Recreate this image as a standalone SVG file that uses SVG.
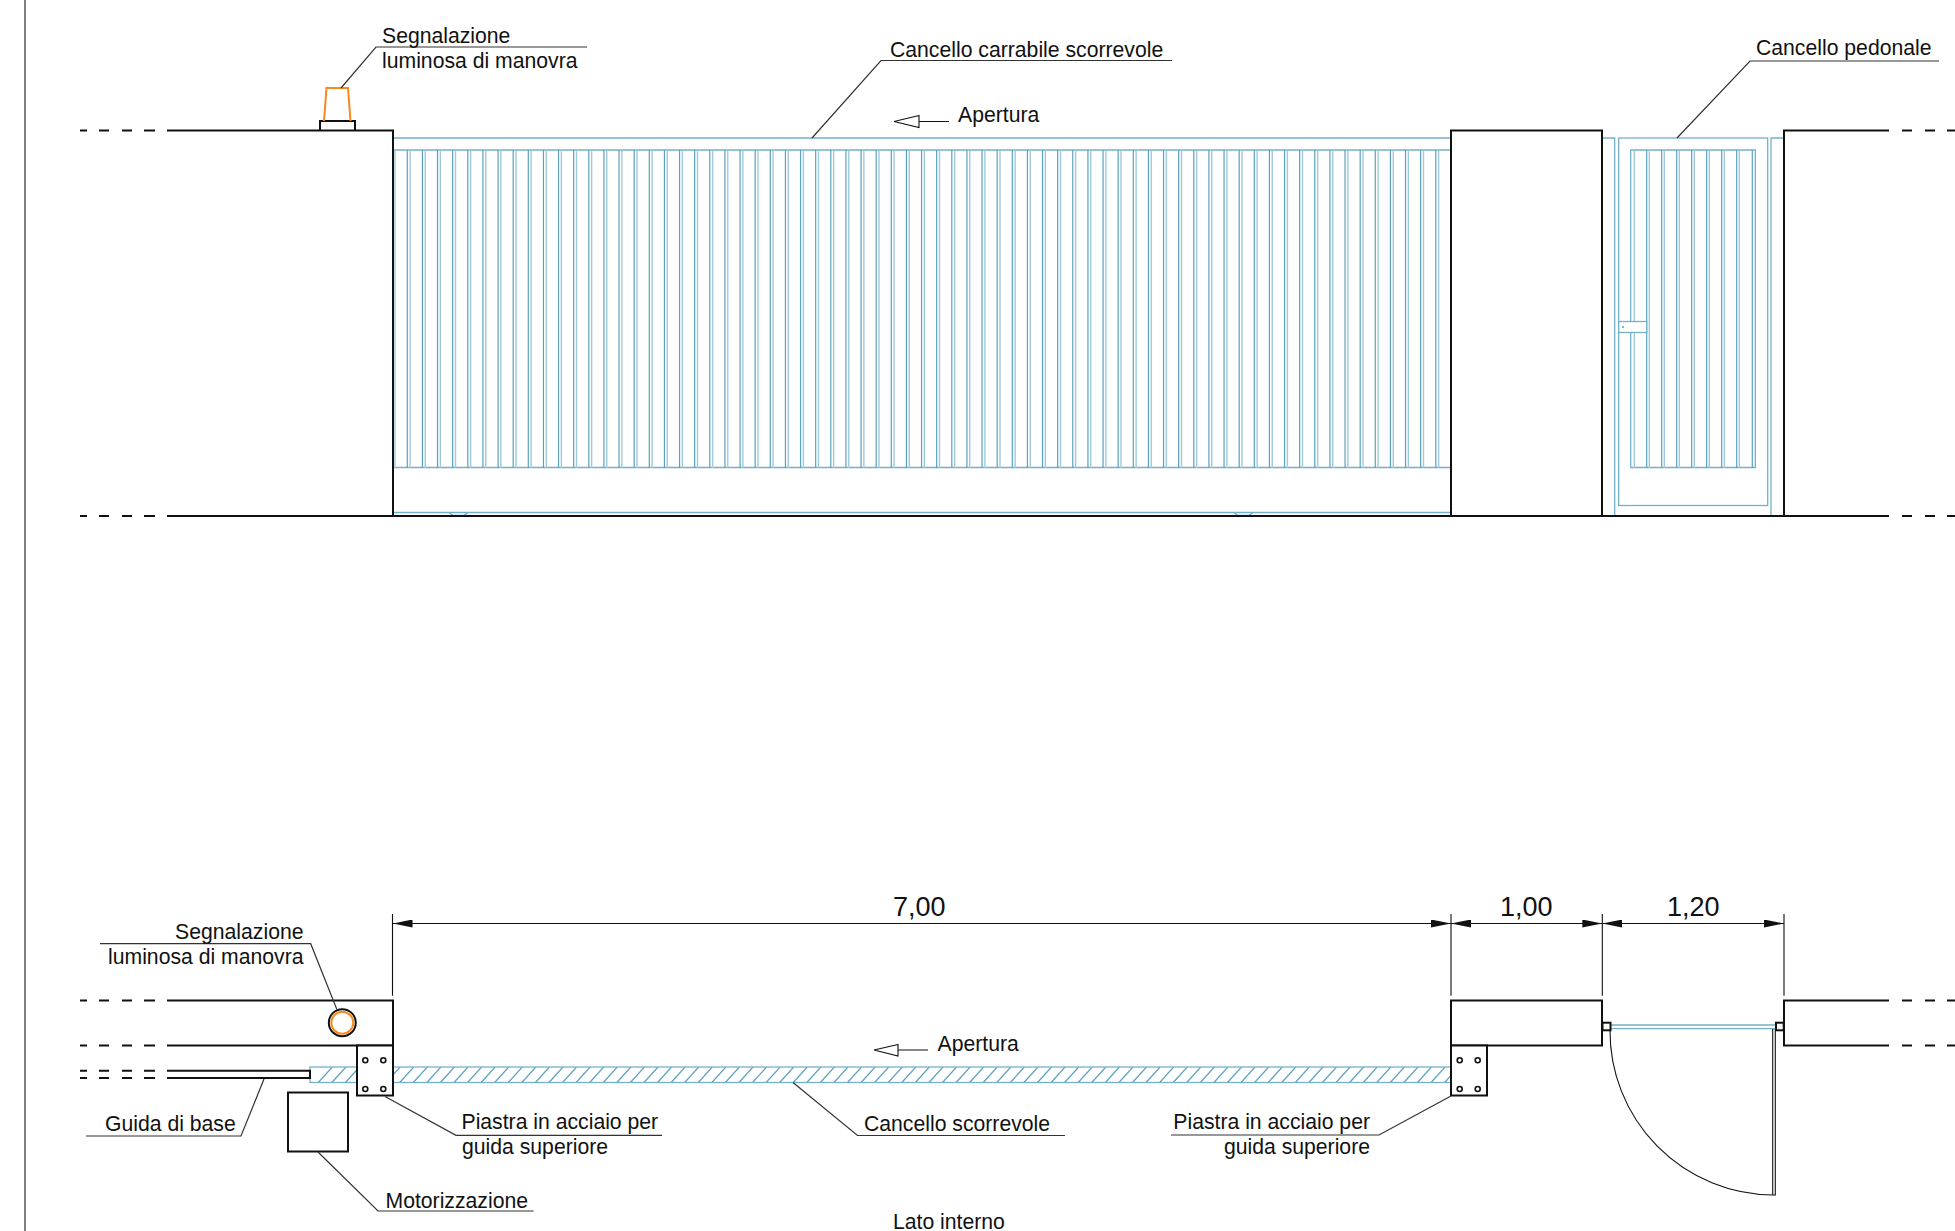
<svg xmlns="http://www.w3.org/2000/svg" width="1955" height="1231" viewBox="0 0 1955 1231">
<style>
text{font-family:"Liberation Sans",Arial,sans-serif;font-size:21.2px;fill:#111}
.dim{font-size:27px}
.e{text-anchor:end}
.k{fill:none;stroke:#111;stroke-width:2}
.kf{fill:#fff;stroke:#111;stroke-width:2}
.l{fill:none;stroke:#333;stroke-width:1.2}
.t{fill:none;stroke:#111;stroke-width:1.1}
.b{fill:none;stroke:#74b1c8;stroke-width:1.3}
.bl{fill:none;stroke:#a0cada;stroke-width:1.4}
.bd{fill:none;stroke:#5aa2bf;stroke-width:1.2}
.o{fill:none;stroke:#f58a1f;stroke-width:2}
.h{fill:#fff;stroke:#111;stroke-width:1.6}
</style>
<defs>
<marker id="a" markerWidth="20" markerHeight="8" refX="20" refY="4" orient="auto-start-reverse" markerUnits="userSpaceOnUse"><path d="M0 0L20 4L0 8z" fill="#111"/></marker>
<clipPath id="hc"><rect x="310" y="1067" width="1141" height="15.500"/></clipPath>
</defs>
<path d="M25 0V1231" stroke="#555" stroke-width="1.500" fill="none"/>
<g id="gate-main">
<path class="b" d="M393 138H1451M393 150H1451M393 467.500H1451M393 512.500H1451M393 467V515"/>
<path class="bl" d="M395 150v318
m15.125-318v318m15.125-318v318m15.125-318v318m15.125-318v318m15.125-318v318m15.125-318v318m15.125-318v318m15.125-318v318m15.125-318v318m15.125-318v318
m15.125-318v318m15.125-318v318m15.125-318v318m15.125-318v318m15.125-318v318m15.125-318v318m15.125-318v318m15.125-318v318m15.125-318v318m15.125-318v318
m15.125-318v318m15.125-318v318m15.125-318v318m15.125-318v318m15.125-318v318m15.125-318v318m15.125-318v318m15.125-318v318m15.125-318v318m15.125-318v318
m15.125-318v318m15.125-318v318m15.125-318v318m15.125-318v318m15.125-318v318m15.125-318v318m15.125-318v318m15.125-318v318m15.125-318v318m15.125-318v318
m15.125-318v318m15.125-318v318m15.125-318v318m15.125-318v318m15.125-318v318m15.125-318v318m15.125-318v318m15.125-318v318m15.125-318v318m15.125-318v318
m15.125-318v318m15.125-318v318m15.125-318v318m15.125-318v318m15.125-318v318m15.125-318v318m15.125-318v318m15.125-318v318m15.125-318v318m15.125-318v318
m15.125-318v318m15.125-318v318m15.125-318v318m15.125-318v318m15.125-318v318m15.125-318v318m15.125-318v318m15.125-318v318m15.125-318v318"/>
<path class="bd" d="M407.300 150v318
m15.125-318v318m15.125-318v318m15.125-318v318m15.125-318v318m15.125-318v318m15.125-318v318m15.125-318v318m15.125-318v318m15.125-318v318m15.125-318v318
m15.125-318v318m15.125-318v318m15.125-318v318m15.125-318v318m15.125-318v318m15.125-318v318m15.125-318v318m15.125-318v318m15.125-318v318m15.125-318v318
m15.125-318v318m15.125-318v318m15.125-318v318m15.125-318v318m15.125-318v318m15.125-318v318m15.125-318v318m15.125-318v318m15.125-318v318m15.125-318v318
m15.125-318v318m15.125-318v318m15.125-318v318m15.125-318v318m15.125-318v318m15.125-318v318m15.125-318v318m15.125-318v318m15.125-318v318m15.125-318v318
m15.125-318v318m15.125-318v318m15.125-318v318m15.125-318v318m15.125-318v318m15.125-318v318m15.125-318v318m15.125-318v318m15.125-318v318m15.125-318v318
m15.125-318v318m15.125-318v318m15.125-318v318m15.125-318v318m15.125-318v318m15.125-318v318m15.125-318v318m15.125-318v318m15.125-318v318m15.125-318v318
m15.125-318v318m15.125-318v318m15.125-318v318m15.125-318v318m15.125-318v318m15.125-318v318m15.125-318v318m15.125-318v318m15.125-318v318"/>
<path class="b" d="M449 512.500L453 515.500H464L468 512.500M1234 512.500L1238 515.500H1249L1253 512.500"/>
</g>
<g id="gate-pedestrian">
<path class="b" d="M1602 138H1614.700V515M1771 515V138H1784"/>
<rect class="b" x="1618.700" y="138" width="149" height="367.500"/>
<path class="b" d="M1630.700 150H1755.300V467.500H1630.700z"/>
<path class="bl" d="M1634.300 150v318M1649.300 150v318M1664.300 150v318M1679.300 150v318M1694.300 150v318M1709.300 150v318M1724.300 150v318M1739.300 150v318"/>
<path class="bd" d="M1646.700 150v318M1661.700 150v318M1676.700 150v318M1691.700 150v318M1706.700 150v318M1721.700 150v318M1736.700 150v318M1752.300 150v318"/>
<rect x="1618.700" y="321.500" width="28" height="11" fill="#fff" stroke="#74b1c8" stroke-width="1.300"/>
<circle cx="1623" cy="327" r="1" fill="#5aa2bf"/>
</g>
<g id="elevation-walls">
<path class="k" d="M167 130.500H393V516H167"/>
<path class="kf" d="M320 130.500V121H355V130.500" style="fill:none"/>
<path class="k" d="M1451 130.500H1602V516H1451z"/>
<path class="k" d="M1889 130.500H1784V516H1889M1602 516H1784M393 516H1451"/>
<path class="k" d="M80 130.500H87M99 130.500H109M122 130.500H132M144 130.500H155M80 516H87M99 516H109M122 516H132M144 516H155M1902 130.500H1912M1925 130.500H1935M1947 130.500H1955M1902 516H1912M1925 516H1935M1947 516H1955"/>
</g>
<g id="beacon-elevation">
<path class="o" d="M324 121L326.500 88H348L350.500 121"/>
</g>
<g id="plan-gate">
<g clip-path="url(#hc)"><path class="bd" d="M318.300 1082.500
l14-15.500m-.43 15.500l14-15.500m-.43 15.500l14-15.500m-.43 15.500l14-15.500m-.43 15.500l14-15.500m-.43 15.500l14-15.500m-.43 15.500l14-15.500m-.43 15.500l14-15.500m-.43 15.500l14-15.500m-.43 15.500l14-15.500m-.43 15.500
l14-15.500m-.43 15.500l14-15.500m-.43 15.500l14-15.500m-.43 15.500l14-15.500m-.43 15.500l14-15.500m-.43 15.500l14-15.500m-.43 15.500l14-15.500m-.43 15.500l14-15.500m-.43 15.500l14-15.500m-.43 15.500l14-15.500m-.43 15.500
l14-15.500m-.43 15.500l14-15.500m-.43 15.500l14-15.500m-.43 15.500l14-15.500m-.43 15.500l14-15.500m-.43 15.500l14-15.500m-.43 15.500l14-15.500m-.43 15.500l14-15.500m-.43 15.500l14-15.500m-.43 15.500l14-15.500m-.43 15.500
l14-15.500m-.43 15.500l14-15.500m-.43 15.500l14-15.500m-.43 15.500l14-15.500m-.43 15.500l14-15.500m-.43 15.500l14-15.500m-.43 15.500l14-15.500m-.43 15.500l14-15.500m-.43 15.500l14-15.500m-.43 15.500l14-15.500m-.43 15.500
l14-15.500m-.43 15.500l14-15.500m-.43 15.500l14-15.500m-.43 15.500l14-15.500m-.43 15.500l14-15.500m-.43 15.500l14-15.500m-.43 15.500l14-15.500m-.43 15.500l14-15.500m-.43 15.500l14-15.500m-.43 15.500l14-15.500m-.43 15.500
l14-15.500m-.43 15.500l14-15.500m-.43 15.500l14-15.500m-.43 15.500l14-15.500m-.43 15.500l14-15.500m-.43 15.500l14-15.500m-.43 15.500l14-15.500m-.43 15.500l14-15.500m-.43 15.500l14-15.500m-.43 15.500l14-15.500m-.43 15.500
l14-15.500m-.43 15.500l14-15.500m-.43 15.500l14-15.500m-.43 15.500l14-15.500m-.43 15.500l14-15.500m-.43 15.500l14-15.500m-.43 15.500l14-15.500m-.43 15.500l14-15.500m-.43 15.500l14-15.500m-.43 15.500l14-15.500m-.43 15.500
l14-15.500m-.43 15.500l14-15.500m-.43 15.500l14-15.500m-.43 15.500l14-15.500m-.43 15.500l14-15.500m-.43 15.500l14-15.500m-.43 15.500l14-15.500m-.43 15.500l14-15.500m-.43 15.500l14-15.500m-.43 15.500l14-15.500m-.43 15.500
l14-15.500m-.43 15.500l14-15.500m-.43 15.500l14-15.500m-.43 15.500l14-15.500m-.43 15.500l14-15.500"/></g>
<rect class="b" x="310" y="1067" width="1141" height="15.500"/>
</g>
<g id="plan-walls">
<path class="k" d="M167 1000.500H393V1045.500H167M167 1070.700H310V1078H167"/>
<rect class="kf" x="1451" y="1000.500" width="151" height="45"/>
<path class="k" d="M1889 1000.500H1784V1045.500H1889"/>
<path class="k" d="M80 1000.500H87M99 1000.500H109M122 1000.500H132M144 1000.500H155M80 1045.500H87M99 1045.500H109M122 1045.500H132M144 1045.500H155M80 1070.700H87M99 1070.700H109M122 1070.700H132M144 1070.700H155M80 1078H87M99 1078H109M122 1078H132M144 1078H155M1902 1000.500H1912M1925 1000.500H1935M1947 1000.500H1955M1902 1045.500H1912M1925 1045.500H1935M1947 1045.500H1955"/>
</g>
<g id="beacon-plan">
<circle class="k" cx="342.300" cy="1022.700" r="13.500"/>
<circle class="o" cx="342.300" cy="1022.700" r="11"/>
</g>
<g id="plate-left">
<rect class="kf" x="357" y="1045.500" width="36" height="50"/>
<circle class="h" cx="365.300" cy="1060.300" r="2.500"/><circle class="h" cx="383.300" cy="1060.300" r="2.500"/><circle class="h" cx="365.300" cy="1089" r="2.500"/><circle class="h" cx="383.300" cy="1089" r="2.500"/>
</g>
<g id="plate-right">
<rect class="kf" x="1451" y="1045.500" width="36" height="50"/>
<circle class="h" cx="1459.700" cy="1060.300" r="2.500"/><circle class="h" cx="1477.700" cy="1060.300" r="2.500"/><circle class="h" cx="1459.700" cy="1089" r="2.500"/><circle class="h" cx="1477.700" cy="1089" r="2.500"/>
</g>
<g id="motor"><rect class="kf" x="288" y="1092.500" width="60" height="59"/></g>
<g id="door-plan">
<path class="b" d="M1610 1025H1776M1610 1028.700H1776"/>
<rect class="kf" x="1602.500" y="1022.700" width="8" height="7.600"/>
<rect class="kf" x="1776" y="1022.700" width="7.700" height="7.600"/>
<path class="t" d="M1772.700 1029V1195M1775.300 1029V1195H1772.700M1610 1030A164 164 0 0 0 1772.700 1195"/>
</g>
<g id="connectors">
<path class="l" d="M587 47H376L341 88"/>
<path class="l" d="M1172 60.500H881L812 138"/>
<path class="l" d="M1939 61H1750L1677 138"/>
<path class="l" d="M100 943.700H310.700L336.700 1009"/>
<path class="l" d="M86 1136H241L264 1079"/>
<path class="l" d="M662 1135.300H456L385 1096.500"/>
<path class="l" d="M533.600 1211H378L318 1152"/>
<path class="l" d="M1065 1135.500H857.500L793 1082.500"/>
<path class="l" d="M1171 1135H1379L1451 1096"/>
<path class="t" d="M949 121.500H919M919 115.500L894 121.500L919 127.500z"/>
<path class="t" d="M928 1050H898M898 1044.500L874 1050L898 1056z"/>
<path class="t" d="M392.500 914V995.700M1451 914V995.700M1602.300 914V995.700M1784 914V995.700"/>
<path class="t" marker-start="url(#a)" marker-end="url(#a)" d="M392.500 923.500H1451"/>
<path class="t" marker-start="url(#a)" marker-end="url(#a)" d="M1451 923.500H1602.300"/>
<path class="t" marker-start="url(#a)" marker-end="url(#a)" d="M1602.300 923.500H1784"/>
</g>
<g id="labels">
<text x="382" y="43">Segnalazione</text>
<text x="382" y="68">luminosa di manovra</text>
<text x="890" y="57">Cancello carrabile scorrevole</text>
<text x="958" y="122">Apertura</text>
<text x="1756" y="55">Cancello pedonale</text>
<text class="e" x="303.500" y="938.500">Segnalazione</text>
<text class="e" x="303.500" y="963.500">luminosa di manovra</text>
<text x="105" y="1130.500">Guida di base</text>
<text x="461.500" y="1129">Piastra in acciaio per</text>
<text x="462" y="1154">guida superiore</text>
<text x="385.500" y="1207.500">Motorizzazione</text>
<text x="864" y="1130.500">Cancello scorrevole</text>
<text class="e" x="1370" y="1129">Piastra in acciaio per</text>
<text class="e" x="1370" y="1154">guida superiore</text>
<text x="937.500" y="1051">Apertura</text>
<text x="893" y="1228.500">Lato interno</text>
<text class="dim" x="893" y="915.500">7,00</text>
<text class="dim" x="1500" y="915.500">1,00</text>
<text class="dim" x="1667" y="915.500">1,20</text>
</g>
</svg>
